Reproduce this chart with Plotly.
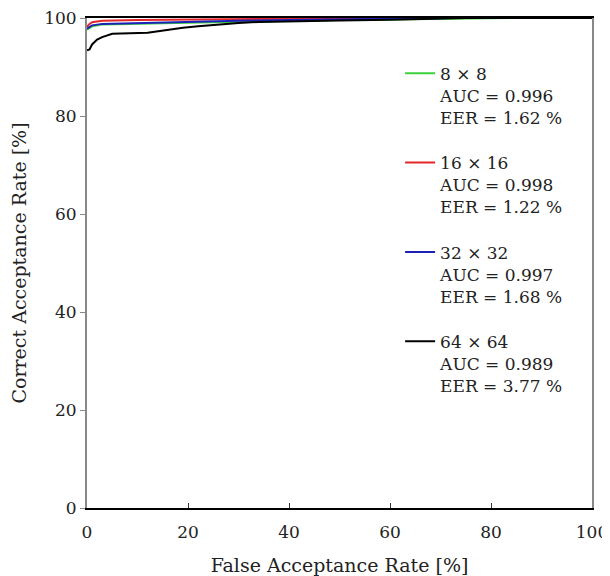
import plotly.graph_objects as go

# ROC data (x = FAR %, y = CAR %)
green_x = [0, 0.5, 1, 3, 10, 20, 30, 40, 50, 60, 70, 78, 84, 100]
green_y = [97.6, 98.0, 98.3, 98.65, 98.85, 99.05, 99.25, 99.45, 99.6, 99.7, 99.8, 99.9, 100, 100]

red_x = [0, 0.5, 1, 3, 10, 20, 35, 50, 60, 100]
red_y = [98.2, 98.8, 99.15, 99.45, 99.6, 99.7, 99.85, 99.95, 100, 100]

blue_x = [0, 0.5, 1, 3, 10, 20, 30, 40, 50, 60, 72, 100]
blue_y = [97.8, 98.2, 98.5, 98.8, 99.0, 99.2, 99.45, 99.6, 99.7, 99.8, 100, 100]

black_x = [0, 0.5, 1, 1.5, 2, 3, 4, 5, 12, 14, 16, 19, 22, 26, 30, 34, 40, 50, 60, 70, 75, 100]
black_y = [93.4, 93.6, 94.6, 95.1, 95.6, 96.1, 96.5, 96.8, 97.0, 97.3, 97.6, 98.0, 98.3, 98.7, 99.0, 99.2, 99.35, 99.5, 99.65, 99.85, 100, 100]

series = [
    ("8 × 8", "0.996", "1.62", green_x, green_y, "#3ad13a"),
    ("16 × 16", "0.998", "1.22", red_x, red_y, "#e3262b"),
    ("32 × 32", "0.997", "1.68", blue_x, blue_y, "#1c22b8"),
    ("64 × 64", "0.989", "3.77", black_x, black_y, "#000000"),
]

x_ticks = [0, 20, 40, 60, 80, 100]
y_ticks = [0, 20, 40, 60, 80, 100]

FONT = "DejaVu Serif"

fig = go.Figure()
for i, (name, auc, eer, xs, ys, col) in enumerate(series):
    fig.add_trace(go.Scatter(
        x=xs, y=ys, mode="lines",
        line=dict(color=col, width=2),
        name=f"{name}<br>AUC = {auc}<br>EER = {eer} %",
        legendgroup=f"g{i}",
    ))

# the page body adds an 8px margin, so the figure is 8px smaller on each side
fig.update_layout(
    width=602, height=568,
    margin=dict(l=79, r=18, t=10, b=68),
    paper_bgcolor="white", plot_bgcolor="white",
    font=dict(family=FONT, size=17, color="#222"),
    showlegend=True,
    legend=dict(
        x=0.62, y=0.923, xanchor="left", yanchor="top",
        bgcolor="rgba(0,0,0,0)", borderwidth=0,
        font=dict(family=FONT, size=17, color="#222"),
        tracegroupgap=20, valign="top", itemwidth=30,
    ),
    xaxis=dict(
        range=[0, 100], tickvals=x_ticks, ticktext=[str(v) for v in x_ticks],
        showgrid=False, zeroline=False, automargin=False,
        showline=True, linecolor="black", linewidth=1.5, mirror=True,
        ticks="inside", ticklen=5, tickcolor="#333", tickwidth=1,
        ticklabelstandoff=8, ticklabeloverflow="allow",
        tickfont=dict(family=FONT, size=17, color="#222"),
        title=dict(text="False Acceptance Rate [%]", font=dict(family=FONT, size=19, color="#222"), standoff=26),
    ),
    yaxis=dict(
        range=[0, 100], tickvals=y_ticks, ticktext=[str(v) for v in y_ticks],
        showgrid=False, zeroline=False, automargin=False,
        showline=True, linecolor="#888", linewidth=2, mirror=True,
        ticks="outside", ticklen=5, tickcolor="#888", tickwidth=1,
        ticklabeloverflow="allow",
        tickfont=dict(family=FONT, size=17, color="#222"),
        title=dict(text="Correct Acceptance Rate [%]", font=dict(family=FONT, size=19, color="#222"), standoff=12),
    ),
)

fig.write_html("out.html")
